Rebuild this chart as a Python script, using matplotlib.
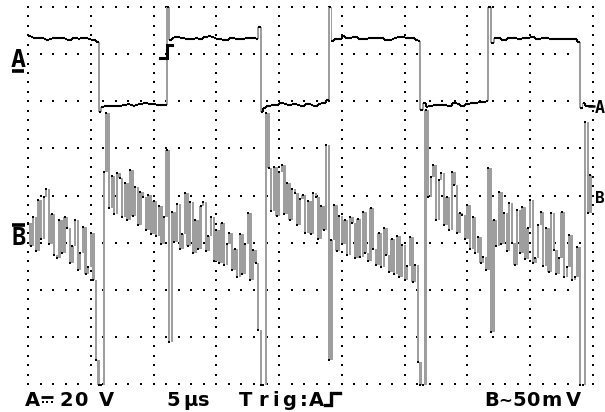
import numpy as np
import matplotlib
matplotlib.use('Agg')
import matplotlib.pyplot as plt

# ---------------- data ----------------
TIME_PER_DIV_US = 5.0      # 5 µs/div
SAMPLES_PER_DIV = 24
A_VOLTS_PER_DIV = 20.0     # A = 20 V/div (DC)
B_MV_PER_DIV = 50.0        # B = 50 mV/div (AC)

# channel A samples (V)
ch_a_volts = [
    14.4, 14.0, 13.6, 13.6, 13.6, 13.6, 13.2, 12.7, 13.2, 13.6, 13.6, 13.6,
    13.6, 13.6, 13.2, 12.7, 12.7, 13.6, 13.6, 13.2, 13.6, 13.6, 13.6, 13.2,
    12.7, 12.7, 11.9,
    -17.8, -15.7, -15.3, -15.3, -15.3, -15.3, -15.3, -15.3, -15.3, -14.9, -14.9,
    -14.4, -14.9, -15.3, -14.9, -14.4, -14.4, -14.0, -14.0, -14.4, -14.4, -14.4,
    -14.9, -14.9, -14.9, -14.9,
    26.7, 12.7,
    13.6, 14.0, 14.0, 13.6, 13.6, 13.2, 13.2, 13.2, 13.2, 13.6, 13.2, 13.2,
    14.0, 14.0, 14.4, 14.0, 13.6, 13.2, 13.2, 12.7, 12.7, 12.7, 13.6, 13.6,
    13.2, 13.2, 13.2, 13.2, 13.6, 13.6, 13.6, 13.6, 13.2,
    18.2,
    -17.8, -16.1, -15.3, -15.3, -14.9, -14.9, -14.9, -14.0, -14.0, -14.4, -14.9,
    -14.9, -14.4, -14.4, -14.9, -15.3, -15.3, -14.4, -14.4, -14.9, -15.3, -15.3,
    -14.4, -14.0, -14.0,
    -12.7, 26.7,
    12.3, 13.2, 13.2, 13.2, 14.4, 13.6, 13.6, 13.6, 14.0, 14.0, 13.2, 13.2,
    13.2, 13.2, 13.6, 13.6, 13.6, 13.6, 13.6, 13.6, 12.7, 12.7, 12.7, 13.2,
    13.6, 14.0, 14.0, 14.0, 13.6, 13.6, 13.6, 13.6, 12.7,
    12.3,
    -17.0, -14.0, -15.7, -15.3, -15.3, -14.9, -14.9, -14.9, -14.9, -14.9, -15.3,
    -15.3, -14.0, -14.0, -14.4, -15.3, -15.3, -14.4, -14.4, -14.0, -14.0, -14.0,
    -13.6, -13.6, -13.6, -13.2,
    26.7, 11.5,
    13.6, 13.6, 13.6, 12.7, 12.7, 13.6, 13.6, 13.6, 13.6, 13.2, 13.2, 13.6,
    13.6, 13.6, 14.0, 14.0, 13.2, 13.2, 13.6, 13.6, 13.6, 13.2, 13.2, 13.2,
    13.2, 13.2, 13.2, 13.2, 13.2, 13.2, 13.2, 13.2,
    11.9,
    -16.1, -14.0, -15.3, -15.3, -15.3,
]

# channel B samples (mV)
ch_b_mv = [
    2, -22, 8, -28, 27, -15, 30, 38, -20, 12, -32, -35,
    5, -30, 9, -3, -40, -22, 5, -48, -30, -2, -52, -45,
    -8, -58, -143, -170, -170, 56, 119,
    18, 52, 12, 55, 50, 8, 45, 5, 58, 10, 40, 0,
    35, 30, -5, 32, -10, 25, -12, 20, -20, 8,
    80, -124,
    14, -18, 22, -25, -10, 34, -22, 24, -30, 5, -25, 20,
    24, -28, -12, 8, -38, -5, -40, 2, -42, -20, -8, -48,
    -25, -55, -10, -52, -20, 13, -58, -26, -40,
    -111, -170, -170, 119,
    60, 15, 62, 10, 56, 64, 12, 45, 5, 38, 34, 0,
    28, 32, -8, 25, -10, 34, 30, -15, 20, -5,
    85, -143,
    -16, 21, -28, 10, -20, 5, -32, 8, 2, -35, 6, -34,
    14, -30, -38, 18, -25, -42, -8, -45, -3, -32, -50, -15,
    -52, -12, -55, -21, -58, -44, -13, -60, -42,
    -145, -170, -170, 122,
    30, 51, 64, 5, 48, 55, 0, 30, -5, 56, 42, -8,
    13, 11, -15, 21, -25, 8, -30, -13, -40, -34, -48,
    60, -113,
    5, -22, 35, -20, 13, -28, 23, -19, -42, 16, -30, 19,
    -36, -3, 27, -40, -35, 0, 14, -44, -3, -50, 13, -27,
    -52, -35, 14, -55, -45, -11, -58, -55, -23,
    -170, -170, 109, 13, 53,
]

label_a_scale = "A⎓20 V"
label_time = "5µs"
label_trig = "Trig: A"
label_b_scale = "B∼50mV"
marker_a = "A"
marker_b = "B"

# ---------------- screen geometry ----------------
W_PX, H_PX = 605, 412
X0_PX, DIV_W = 28.0, 62.78
Y_TOP_PX, DIV_H = 7.0, 47.125
N_XDIV, N_YDIV = 9, 8
A_GND_PX, B_GND_PX = 70.0, 225.0


def tx(px):
    return (px - X0_PX) / DIV_W * TIME_PER_DIV_US


def dy(py):
    return (Y_TOP_PX + N_YDIV * DIV_H - py) / DIV_H


A_GND = dy(A_GND_PX)
B_GND = dy(B_GND_PX)

fig = plt.figure(figsize=(W_PX / 100, H_PX / 100), dpi=100)
ax = fig.add_axes([0, 0, 1, 1])
ax.set_xlim(tx(0), tx(W_PX))
ax.set_ylim(dy(H_PX), dy(0))
ax.axis('off')
fig.patch.set_facecolor('white')

# dotted graticule
gx, gy = [], []
for k in range(N_XDIV + 1):
    ys = np.arange(0, N_YDIV + 0.001, 0.2)
    gx += [k * TIME_PER_DIV_US] * len(ys)
    gy += list(ys)
for j in range(N_YDIV + 1):
    xs = np.arange(0, N_XDIV * TIME_PER_DIV_US + 0.001, TIME_PER_DIV_US / 5)
    gx += list(xs)
    gy += [j] * len(xs)
ax.scatter(gx, gy, marker='s', s=2.6, c='black', linewidths=0, zorder=1)

dt = TIME_PER_DIV_US / SAMPLES_PER_DIV
t = np.arange(len(ch_b_mv)) * dt
a_div = A_GND + np.array(ch_a_volts) / A_VOLTS_PER_DIV
b_div = B_GND + np.array(ch_b_mv, dtype=float) / B_MV_PER_DIV

HATCH = '#9e9e9e'

# channel B: hatched columns between consecutive samples + sample dots
lo = np.minimum(b_div[:-1], b_div[1:])
hi = np.maximum(b_div[:-1], b_div[1:])
ax.bar(t[1:], hi - lo, bottom=lo, width=dt * 0.9, color=HATCH, linewidth=0, zorder=2)
ax.plot(t, b_div, 's', ms=1.9, color='black', mew=0, zorder=3)

# channel A: level segments + edges
t_end = np.append(t[1:], t[-1] + dt)
ax.hlines(a_div, t, t_end, color='black', lw=1.5, zorder=4)
jump = np.abs(np.diff(a_div))
small = jump < 0.1
ax.vlines(t[1:][small], a_div[:-1][small], a_div[1:][small], color='black', lw=1.5, zorder=4)
alo = np.minimum(a_div[:-1], a_div[1:])[~small]
ahi = np.maximum(a_div[:-1], a_div[1:])[~small]
ax.bar(t[1:][~small], ahi - alo, bottom=alo, width=dt * 0.7, color=HATCH, linewidth=0, zorder=2)

# trigger icon on trace
ax.plot([tx(160), tx(167), tx(167), tx(172)], [dy(58), dy(58), dy(45), dy(45)],
        color='black', lw=2.2, solid_joinstyle='miter', zorder=5)

# left ground markers
ax.text(tx(11), dy(67), marker_a, fontsize=18, fontweight='bold', family='DejaVu Sans Mono',
        ha='left', va='baseline')
ax.plot([tx(12), tx(24)], [dy(70.5), dy(70.5)], color='black', lw=2.6, solid_capstyle='butt')
ax.plot([tx(12), tx(25)], [dy(225), dy(225)], color='black', lw=2.6, solid_capstyle='butt')
ax.text(tx(11), dy(245), marker_b, fontsize=17, fontweight='bold', family='DejaVu Sans Mono',
        ha='left', va='baseline')

# right markers
ax.plot([tx(588), tx(595)], [dy(106), dy(106)], color='black', lw=1.8, solid_capstyle='butt')
ax.text(tx(595), dy(113), marker_a, fontsize=12, fontweight='bold', family='DejaVu Sans Mono',
        ha='left', va='baseline')
ax.text(tx(595), dy(203), marker_b, fontsize=11.5, fontweight='bold', family='DejaVu Sans Mono',
        ha='left', va='baseline')

# bottom status line, each character centred in its cell
BASE = 406


def put_chars(s, centers, sizes=None):
    for k, (ch, cx) in enumerate(zip(s, centers)):
        if ch == ' ' or cx is None:
            continue
        size = 14 if sizes is None else sizes[k]
        ax.text(tx(cx), dy(BASE), ch, ha='center', va='baseline', fontsize=size,
                fontweight='bold', family='DejaVu Sans')


# "⎓" has no glyph in any installed family -> drawn as a shape below
put_chars(label_a_scale, [32.5, None, 66.5, 80.5, None, 106.5])
ax.plot([tx(41), tx(53)], [dy(396.5), dy(396.5)], color='black', lw=2.0, solid_capstyle='butt')
ax.scatter([tx(42.5), tx(47), tx(51.5)], [dy(401.5)] * 3, marker='s', s=4, c='black', linewidths=0)

put_chars(label_time, [173.5, 190, 203.5])
put_chars(label_trig, [246, 263.5, 276, 289.5, 303.5, None, 316.5])
put_chars(label_b_scale, [491.5, 505.5, 519, 532.5, 551.5, 573.5], [14, 12, 14, 14, 14, 14])
# rising-edge trigger glyph after "Trig: A"
ax.plot([tx(325), tx(331), tx(331), tx(340)], [dy(405), dy(405), dy(393), dy(393)],
        color='black', lw=2.4, solid_joinstyle='miter')

fig.savefig('out.png', dpi=100, facecolor='white')
